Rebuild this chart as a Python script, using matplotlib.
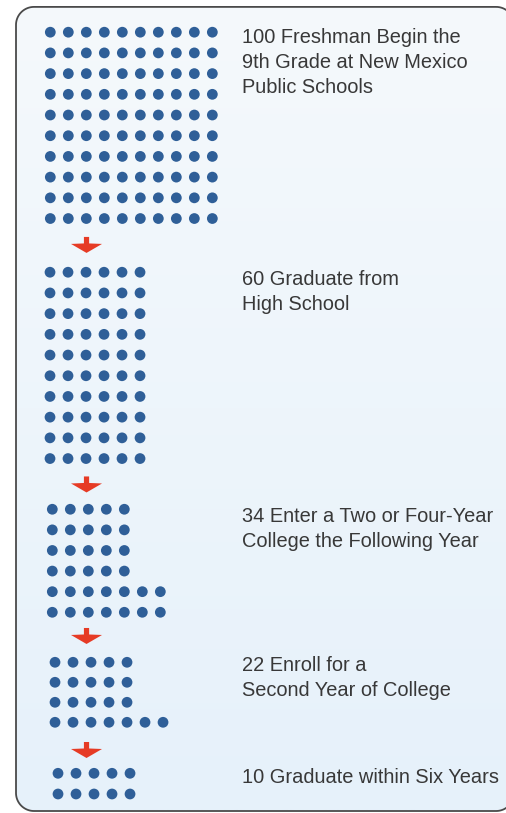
import matplotlib
matplotlib.use("Agg")
import matplotlib.pyplot as plt
import numpy as np
from matplotlib.patches import Polygon
from matplotlib.colors import to_rgb

# Students remaining at each stage of the pipeline
stage_counts = [100, 60, 34, 22, 10]

# How each stage's dots are arranged, row by row (row lengths sum to the count)
row_lengths = [
    [10, 10, 10, 10, 10, 10, 10, 10, 10, 10],
    [6, 6, 6, 6, 6, 6, 6, 6, 6, 6],
    [5, 5, 5, 5, 7, 7],
    [5, 5, 5, 7],
    [5, 5],
]

stage_labels = [
    "100 Freshman Begin the\n9th Grade at New Mexico\nPublic Schools",
    "60 Graduate from\nHigh School",
    "34 Enter a Two or Four-Year\nCollege the Following Year",
    "22 Enroll for a\nSecond Year of College",
    "10 Graduate within Six Years",
]

# Layout (pixel coordinates, y grows downward)
W, H = 506, 813
group_x0 = [50.3, 50.0, 52.3, 55.0, 58.0]
group_y0 = [32.3, 272.3, 509.3, 662.3, 773.3]
group_dy = [20.7, 20.7, 20.6, 20.0, 20.7]
dot_dx = 18.0
arrow_x = 86.5
arrow_tips = [253.0, 492.5, 644.0, 758.0]
label_x = 242
label_baselines = [43.3, 285.0, 521.7, 670.7, 783.3]
line_step = 24.8

dot_color = "#2f5f98"
arrow_color = "#e63b25"
text_color = "#383838"

fig = plt.figure(figsize=(W / 100 + 0.001, H / 100 + 0.001), dpi=100)
ax = fig.add_axes([0, 0, 1, 1])
ax.set_xlim(0, W)
ax.set_ylim(H, 0)
ax.axis("off")


def rounded_rect(x0, y0, x1, y1, r, n=24):
    """Polyline outline of a rounded rectangle (y grows downward)."""
    pts = []
    corners = [
        (x1 - r, y0 + r, -90, 0),     # top-right
        (x1 - r, y1 - r, 0, 90),      # bottom-right
        (x0 + r, y1 - r, 90, 180),    # bottom-left
        (x0 + r, y0 + r, 180, 270),   # top-left
    ]
    for cx, cy, a0, a1 in corners:
        a = np.radians(np.linspace(a0, a1, n))
        pts.extend(zip(cx + r * np.cos(a), cy + r * np.sin(a)))
    return np.array(pts)


# Rounded panel with a soft vertical gradient; its right side runs past
# the edge of the canvas
outline = rounded_rect(16, 7, 514, 811, 18)
panel = Polygon(outline, closed=True, facecolor="none", edgecolor="#4a4a4a",
                linewidth=1.3, zorder=3)
ax.add_patch(panel)
top_c = np.array(to_rgb("#f5f9fc"))
bot_c = np.array(to_rgb("#e6f1fa"))
t = np.linspace(0, 1, 256)[:, None, None]
grad = top_c * (1 - t) + bot_c * t
img = ax.imshow(grad, extent=[16, 514, 811, 7], aspect="auto", zorder=1,
                interpolation="bilinear")
img.set_clip_path(panel)
ax.set_xlim(0, W)
ax.set_ylim(H, 0)

# Dot groups
for count, rows, x0, y0, dy in zip(stage_counts, row_lengths, group_x0,
                                   group_y0, group_dy):
    assert sum(rows) == count
    xs, ys = [], []
    for r, n in enumerate(rows):
        for c in range(n):
            xs.append(x0 + c * dot_dx)
            ys.append(y0 + r * dy)
    ax.scatter(xs, ys, s=60, color=dot_color, edgecolors="none", zorder=4)

# Down arrows between stages
for tip in arrow_tips:
    pts = [
        (arrow_x - 2.6, tip - 16), (arrow_x + 2.6, tip - 16),
        (arrow_x + 2.6, tip - 9.5), (arrow_x + 15.5, tip - 9),
        (arrow_x, tip), (arrow_x - 15.5, tip - 9),
        (arrow_x - 2.6, tip - 9.5),
    ]
    ax.add_patch(Polygon(pts, closed=True, facecolor=arrow_color,
                         edgecolor="none", zorder=4))

# Stage descriptions
for label, base in zip(stage_labels, label_baselines):
    for i, line in enumerate(label.split("\n")):
        ax.text(label_x, base + i * line_step, line, fontsize=14.4,
                family="Liberation Sans", color=text_color,
                ha="left", va="baseline", zorder=5)

fig.savefig("out.png", dpi=100, facecolor="white")
